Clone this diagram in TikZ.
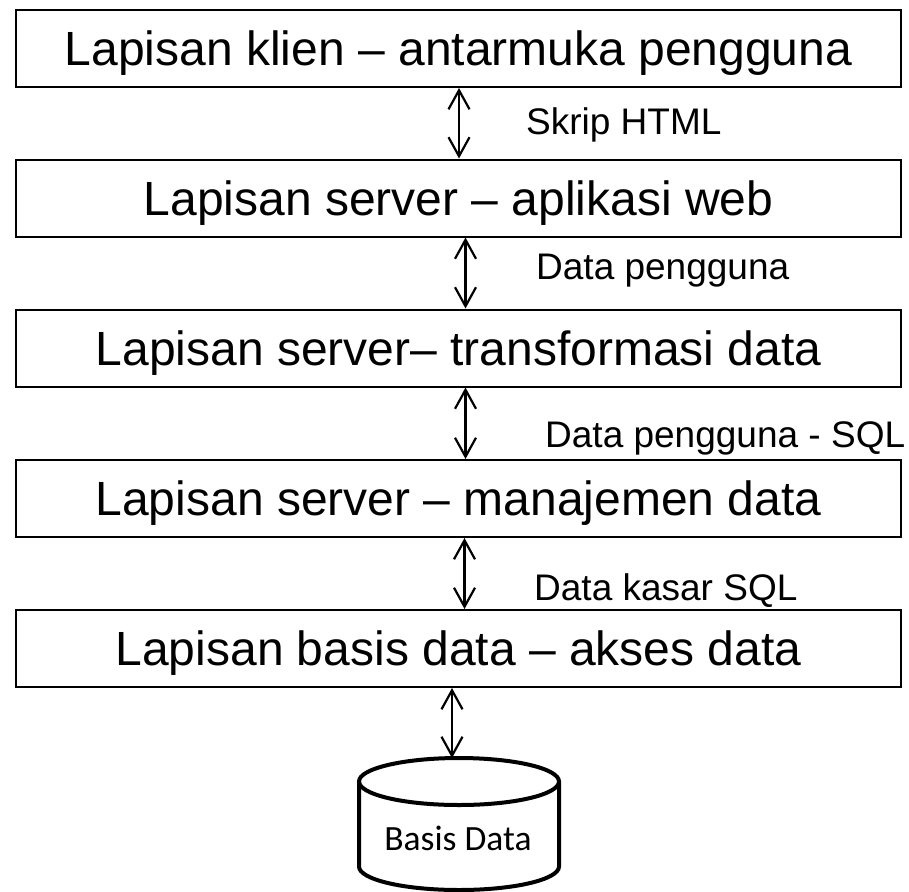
\documentclass[tikz,border=0pt]{standalone}
\usepackage{fontspec}
\setmainfont{Liberation Sans}
\newfontfamily\dbfont{Carlito}
\usetikzlibrary{positioning,arrows.meta}

\begin{document}
\begin{tikzpicture}[x=1pt,y=-1pt,
    lapisan/.style={draw, line width=2pt, minimum width=885pt, minimum height=77pt,
        inner sep=0pt, text height=34pt, text depth=0pt, font=\fontsize{48}{52}\selectfont},
    ket/.style={anchor=west, inner sep=0pt, text height=26.5pt, text depth=0pt,
        font=\fontsize{37}{40}\selectfont},
    panah/.style={{Straight Barb[length=19pt,width=21pt]}-{Straight Barb[length=19pt,width=21pt]},
        line width=2.2pt},
    tabung/.style={line width=4pt}]
    % Draw the frame of the picture
    \useasboundingbox (0,0) rectangle (909,891);

    % Draw the layers
    \node[lapisan] (klien)     at (458.5,48.5)  {Lapisan klien -- antarmuka pengguna};
    \node[lapisan] (webapp)    at (458.5,198)   {Lapisan server -- aplikasi web};
    \node[lapisan] (transform) at (458.5,348)   {Lapisan server-- transformasi data};
    \node[lapisan] (manajemen) at (458.5,498.5) {Lapisan server -- manajemen data};
    \node[lapisan] (akses)     at (458.5,648.5) {Lapisan basis data -- akses data};

    % Draw the database (a cylinder)
    \draw[tabung] (459,781.5) ellipse [x radius=100pt, y radius=23.5pt];
    \draw[tabung] (359,781.5) -- (359,866.5)
        arc [start angle=180, end angle=360, x radius=100pt, y radius=23.5pt]
        -- (559,781.5);
    \coordinate (dbtop) at (452,758);
    \node[inner sep=0pt, text height=22.5pt, text depth=0pt,
        font=\dbfont\fontsize{35.5}{40}\selectfont] (basisdata) at (458,839) {Basis Data};

    % Draw the arrows between layers
    \draw[panah] ([xshift=0.5pt]klien.south)   -- ([xshift=0.5pt]webapp.north);
    \draw[panah] ([xshift=7pt]webapp.south)    -- ([xshift=7pt]transform.north);
    \draw[panah] ([xshift=7pt]transform.south) -- ([xshift=7pt]manajemen.north);
    \draw[panah] ([xshift=6pt]manajemen.south) -- ([xshift=6pt]akses.north);
    \draw[panah] (akses.south -| dbtop)         -- (dbtop);

    % Labels next to the arrows
    \node[ket] (skrip)   at (526,121) {Skrip HTML};
    \node[ket] (datapg)  at (536,266) {Data pengguna};
    \node[ket] (datasql) at (545,434) {Data pengguna - SQL};
    \node[ket] (kasar)   at (534,587) {Data kasar SQL};
\end{tikzpicture}
\end{document}
